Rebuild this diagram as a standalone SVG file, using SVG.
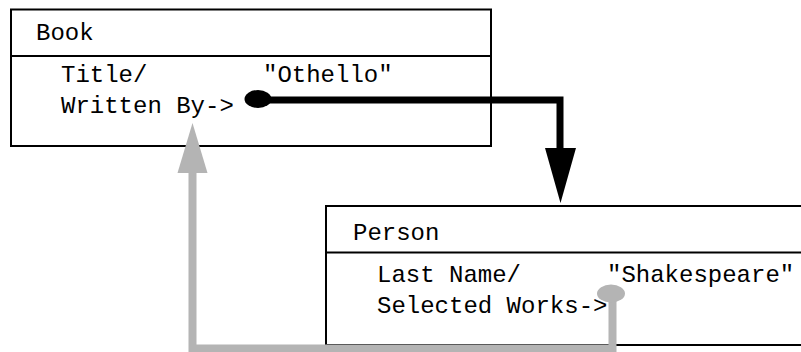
<svg xmlns="http://www.w3.org/2000/svg" width="801" height="352" viewBox="0 0 801 352">
  <style>
    .box { fill: #ffffff; stroke: #000000; stroke-width: 2; }
    .div { stroke: #000000; stroke-width: 2; }
    .t { font-family: "Liberation Mono", "Courier New", monospace; font-size: 24px; fill: #000000; }
    .black { fill: none; stroke: #000000; stroke-width: 7; }
    .gray { fill: none; stroke: #b4b4b4; stroke-width: 8; }
  </style>

  <!-- Book record -->
  <g id="book">
    <rect class="box" x="11" y="9.5" width="480" height="136.5"/>
    <line class="div" x1="11" y1="56" x2="491" y2="56"/>
    <text class="t" x="36" y="40">Book</text>
    <text class="t" x="61" y="82">Title/</text>
    <text class="t" x="263" y="82">"Othello"</text>
    <text class="t" x="61" y="113">Written By-&gt;</text>
  </g>

  <!-- Person record (runs past the right edge) -->
  <g id="person">
    <rect class="box" x="326" y="206" width="490" height="139"/>
    <line class="div" x1="326" y1="252.5" x2="816" y2="252.5"/>
    <text class="t" x="353" y="240">Person</text>
    <text class="t" x="377" y="282">Last Name/</text>
    <text class="t" x="607" y="282">"Shakespeare"</text>
    <text class="t" x="377" y="313">Selected Works-&gt;</text>
  </g>

  <!-- reference links -->
  <g id="connectors">
    <!-- Written By -> Person -->
    <g id="written-by">
      <polyline class="black" points="258,100 560,100 560,150"/>
      <ellipse cx="258" cy="99" rx="13.5" ry="9" fill="#000000"/>
      <polygon points="545,148 576,148 560.5,203" fill="#000000"/>
    </g>
    <!-- Selected Works -> Book -->
    <g id="selected-works">
      <polyline class="gray" points="612.5,294 612.5,348.5 192.5,348.5 192.5,170"/>
      <ellipse cx="611" cy="293.5" rx="14" ry="9" fill="#b4b4b4"/>
      <polygon points="177.5,173 207.5,173 192.5,123" fill="#b4b4b4"/>
    </g>
  </g>
</svg>
